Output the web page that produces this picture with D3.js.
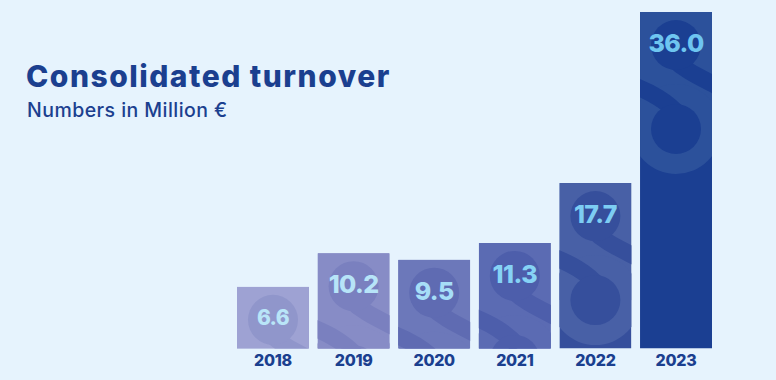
<!DOCTYPE html>
<html>
<head>
<meta charset="utf-8">
<script src="https://cdn.jsdelivr.net/npm/d3@7/dist/d3.min.js"></script>
<style>
  html, body { margin: 0; padding: 0; background: #e6f3fd; }
  svg { display: block; }
  text { font-family: Inter, "Noto Sans", sans-serif; }
</style>
</head>
<body>
<svg id="chart" width="776" height="380"></svg>
<script>
// ---- data ----
const years = ["2018", "2019", "2020", "2021", "2022", "2023"];
const turnover = [6.6, 10.2, 9.5, 11.3, 17.7, 36.0];
const valueLabels = ["6.6", "10.2", "9.5", "11.3", "17.7", "36.0"];
const titleText = "Consolidated turnover";
const subtitleText = "Numbers in Million €";

// ---- styles ----
const lightColors = ["#9ea2d3", "#878cc6", "#6c78ba", "#5b6bb3", "#4860a6", "#2c519b"];
const darkColors  = ["#9096cb", "#7a80bf", "#5f6bb2", "#4d5eab", "#364f9c", "#1b3f92"];
const labelColors = ["#b9e5f8", "#b7e4f8", "#a6def7", "#86d2f5", "#7dcdf3", "#6ec5f0"];
const navy = "#1b3f8f";

const svg = d3.select("#chart");

const x = d3.scaleBand().domain(years).range([237, 712]).paddingInner(0.107).paddingOuter(0);
const y = d3.scaleLinear().domain([0, 36]).range([348.5, 12]);
const bw = x.bandwidth();

const data = years.map((yr, i) => ({ yr, v: turnover[i], label: valueLabels[i], i }));

// title
svg.append("text").attr("x", 26).attr("y", 86.5)
  .attr("font-size", 30).attr("font-weight", 800).attr("fill", navy)
  .attr("letter-spacing", 1.5)
  .text(titleText);
svg.append("text").attr("x", 27).attr("y", 117)
  .attr("font-size", 19.5).attr("font-weight", 500).attr("fill", navy)
  .attr("letter-spacing", 0.45)
  .text(subtitleText);

const defs = svg.append("defs");
data.forEach(d => {
  defs.append("clipPath").attr("id", "clip" + d.i)
    .append("rect")
    .attr("x", -bw / 2).attr("y", 0)
    .attr("width", bw).attr("height", y(0) - y(d.v));
});

const bars = svg.append("g").selectAll("g.bar").data(data).join("g")
  .attr("class", "bar")
  .attr("transform", d => `translate(${x(d.yr) + bw / 2},${y(d.v)})`);

const inner = bars.append("g").attr("clip-path", d => `url(#clip${d.i})`);

// base
inner.append("rect")
  .attr("x", -bw / 2).attr("y", 0).attr("width", bw)
  .attr("height", d => y(0) - y(d.v))
  .attr("fill", d => darkColors[d.i]);
// light body of the logo
inner.append("rect")
  .attr("x", -bw / 2).attr("y", 0).attr("width", bw).attr("height", 117)
  .attr("fill", d => lightColors[d.i]);
inner.append("circle").attr("cx", 0).attr("cy", 117).attr("r", 45)
  .attr("fill", d => lightColors[d.i]);
// dark pieces
inner.append("path")
  .attr("d", "M -4,46 C 10,60 26,66 52,80")
  .attr("fill", "none").attr("stroke-width", 17)
  .attr("stroke", d => darkColors[d.i]);
inner.append("path")
  .attr("d", "M 4,104 C -8,90 -24,80 -52,70")
  .attr("fill", "none").attr("stroke-width", 17)
  .attr("stroke", d => darkColors[d.i]);
inner.append("circle").attr("cx", 0).attr("cy", 33).attr("r", 25)
  .attr("fill", d => darkColors[d.i]);
inner.append("circle").attr("cx", 0).attr("cy", 117).attr("r", 25)
  .attr("fill", d => darkColors[d.i]);

// value labels
bars.append("text")
  .attr("x", 0).attr("y", 31)
  .attr("text-anchor", "middle").attr("dominant-baseline", "central")
  .attr("font-weight", 800)
  .attr("font-size", d => (y(0) - y(d.v) < 70 ? 21 : 25))
  .attr("letter-spacing", -0.6)
  .attr("fill", d => labelColors[d.i])
  .text(d => d.label);

// x axis
const ax = svg.append("g").attr("transform", `translate(0,${y(0)})`)
  .call(d3.axisBottom(x).tickSize(0).tickPadding(6));
ax.select(".domain").remove();
ax.selectAll("text")
  .attr("font-family", "Inter, sans-serif")
  .attr("font-size", 16).attr("font-weight", 800)
  .attr("fill", navy).attr("letter-spacing", -0.3);
</script>
</body>
</html>
